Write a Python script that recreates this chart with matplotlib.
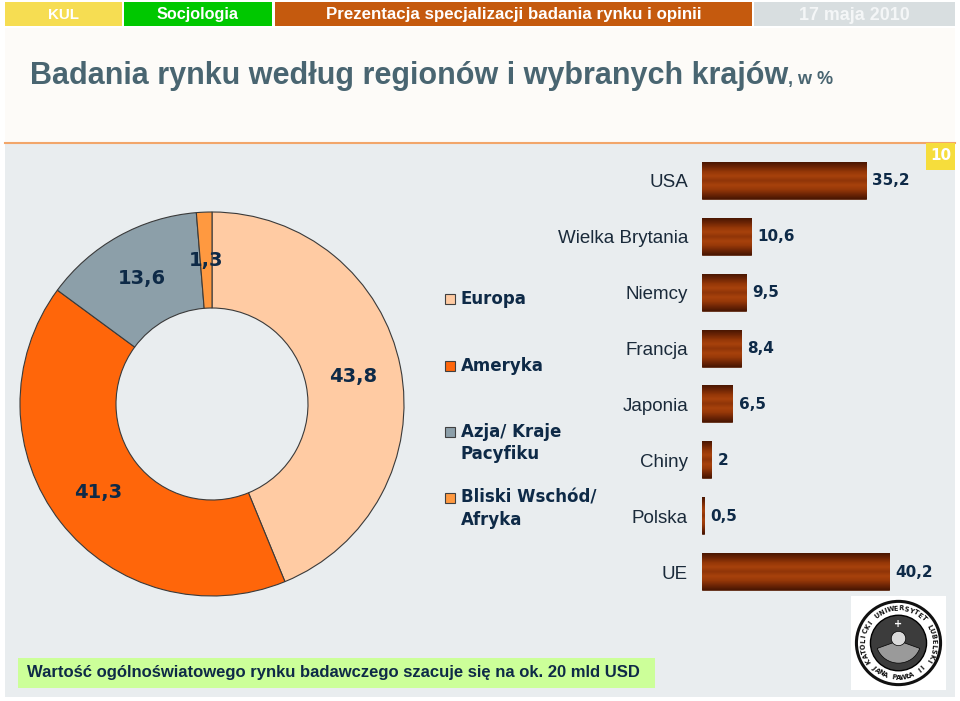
import matplotlib
matplotlib.use('Agg')
import matplotlib.pyplot as plt
import numpy as np
from matplotlib.patches import Rectangle, Circle, Wedge
from matplotlib import font_manager as fm
import matplotlib.colors as mcolors

# ---------------- data ----------------
regions = ['Europa', 'Ameryka', 'Azja/ Kraje\nPacyfiku', 'Bliski Wschód/\nAfryka']
region_shares = [43.8, 41.3, 13.6, 1.3]
region_colors = ['#FFCBA3', '#FF660A', '#8C9FA9', '#FF9940']

countries = ['USA', 'Wielka Brytania', 'Niemcy', 'Francja', 'Japonia', 'Chiny', 'Polska', 'UE']
country_shares = [35.2, 10.6, 9.5, 8.4, 6.5, 2, 0.5, 40.2]

header_labels = ['KUL', 'Socjologia', 'Prezentacja specjalizacji badania rynku i opinii', '17 maja 2010']
header_colors = ['#F6DD52', '#00C800', '#C55A0E', '#D8DEE0']
title = 'Badania rynku według regionów i wybranych krajów'
subtitle = ', w %'
note = 'Wartość ogólnoświatowego rynku badawczego szacuje się na ok. 20 mld USD'
page_number = '10'
seal_top = 'KATOLICKI UNIWERSYTET LUBELSKI'
seal_bottom = 'JANA PAWŁA II'

W, H = 960, 701
names = {f.name for f in fm.fontManager.ttflist}
if 'Liberation Sans Narrow' in names:
    NARROW = 'Liberation Sans Narrow'
elif 'Liberation Sans' in names:
    NARROW = 'Liberation Sans'
else:
    NARROW = 'DejaVu Sans'
NAVY = '#0E2A47'

def fmt(v):
    return f"{v:g}".replace('.', ',')

fig = plt.figure(figsize=(W / 100, H / 100), dpi=100)
fig.patch.set_facecolor('white')

def fx(x):
    return x / W

def fy(y):
    return 1 - y / H

def prect(x0, y0, x1, y1, **kw):
    r = Rectangle((fx(x0), fy(y1)), (x1 - x0) / W, (y1 - y0) / H,
                  transform=fig.transFigure, **kw)
    fig.add_artist(r)
    return r

def fit(t, target_px):
    fig.canvas.draw()
    r = fig.canvas.get_renderer()
    w = t.get_window_extent(r).width
    t.set_fontsize(t.get_fontsize() * target_px / w)

# ---------------- background ----------------
prect(5, 28, 955, 143, facecolor='#FDFBF8', edgecolor='none', zorder=0)
prect(5, 143, 955, 697, facecolor='#E9EDEF', edgecolor='none', zorder=0)
fig.add_artist(plt.Line2D([fx(5), fx(955)], [fy(143), fy(143)], transform=fig.transFigure,
                          color='#F2A66A', lw=1.5, zorder=1))

# header
hx = [(5, 122), (124, 272), (275, 752), (754, 955)]
hwidths = [31, 82, 372, 110]
for (x0, x1), lab, col, tw in zip(hx, header_labels, header_colors, hwidths):
    prect(x0, 2, x1, 26, facecolor=col, edgecolor='none', zorder=1)
    tcol = 'white' if lab != header_labels[3] else '#F4F6F7'
    t = fig.text(fx((x0 + x1) / 2), fy(15), lab, ha='center', va='center', color=tcol,
                 fontsize=12, fontweight='bold', family=NARROW, zorder=2)
    fit(t, tw)

# title
tt = fig.text(fx(30), fy(84), title, ha='left', va='baseline', color='#496571',
              fontsize=22, fontweight='bold', family=NARROW)
fit(tt, 758)
fig.canvas.draw()
bb = tt.get_window_extent(fig.canvas.get_renderer())
fig.text(bb.x1 / W, fy(84), subtitle, ha='left', va='baseline', color='#496571',
         fontsize=13, fontweight='bold', family=NARROW)

# page number
prect(926, 143, 955, 170, facecolor='#F6DD3C', edgecolor='none', zorder=2)
fig.text(fx(940.5), fy(156), page_number, ha='center', va='center', color='white',
         fontsize=11, fontweight='bold', zorder=3)

# ---------------- donut ----------------
ax_p = fig.add_axes([fx(20), fy(596), 384 / W, 384 / H])
wedges, _ = ax_p.pie(region_shares, colors=region_colors, startangle=90, counterclock=False,
                     radius=1, wedgeprops=dict(width=0.5, edgecolor='#3A3A3A', linewidth=0.8))
for w in wedges:
    w.set_clip_on(False)
ax_p.set_xlim(-1, 1)
ax_p.set_ylim(-1, 1)
ax_p.axis('off')
for w, v in zip(wedges, region_shares):
    ang = np.deg2rad((w.theta1 + w.theta2) / 2)
    ax_p.text(0.75 * np.cos(ang), 0.75 * np.sin(ang), fmt(v), ha='center', va='center',
              fontsize=14, fontweight='bold', color=NAVY)

# legend
leg_y = [(299, 299), (366, 366), (432, 443), (498, 509)]
for (sy, ty), lab, col in zip(leg_y, regions, region_colors):
    prect(445, sy - 5, 455, sy + 5, facecolor=col, edgecolor='#404040', lw=0.8, zorder=3)
    fig.text(fx(461), fy(ty), lab, ha='left', va='center', fontsize=12, fontweight='bold',
             color=NAVY, linespacing=1.3)

# ---------------- bars ----------------
ax_b = fig.add_axes([fx(702), fy(600), (955 - 702) / W, 447 / H])
ax_b.set_facecolor('none')
y = np.arange(len(countries))
bars = ax_b.barh(y, country_shares, height=0.645, color='#8B3208', edgecolor='#4A1702', lw=0.5)
grad_cols = ['#4A1702', '#6E2505', '#933607', '#A8420C', '#8F3408', '#A8420C',
             '#963808', '#702606', '#4A1702']
cmap = mcolors.LinearSegmentedColormap.from_list('bar', grad_cols)
grad = np.linspace(0, 1, 64).reshape(-1, 1)
for b in bars:
    x0, y0, bw, bh = b.get_x(), b.get_y(), b.get_width(), b.get_height()
    ax_b.imshow(grad, extent=[x0, x0 + bw, y0 + bh, y0], aspect='auto', cmap=cmap,
                origin='upper', zorder=3, interpolation='bilinear')
ax_b.set_xlim(0, 253 / 4.66)
ax_b.set_ylim(len(countries) - 0.5, -0.5)
ax_b.set_yticks(y, countries)
ax_b.tick_params(axis='y', length=0, pad=10, labelsize=13.5, labelcolor='#1A2A3A')
for lbl in ax_b.get_yticklabels():
    lbl.set_family(NARROW)
ax_b.set_xticks([])
for s in ax_b.spines.values():
    s.set_visible(False)
for b, v in zip(bars, country_shares):
    ax_b.annotate(fmt(v), (b.get_width(), b.get_y() + b.get_height() / 2),
                  xytext=(4.5, 0), textcoords='offset points', ha='left', va='center',
                  fontsize=11, fontweight='bold', color=NAVY, zorder=5)

# ---------------- note ----------------
prect(18, 658, 655, 688, facecolor='#CCFF99', edgecolor='none', zorder=1)
nt = fig.text(fx(27), fy(673), note, ha='left', va='center', color=NAVY,
              fontsize=13, fontweight='bold', family=NARROW, zorder=2)
fit(nt, 614)

# ---------------- seal ----------------
ax_l = fig.add_axes([fx(851), fy(690), 95 / W, 94 / H])
ax_l.set_xlim(-1.05, 1.05)
ax_l.set_ylim(-1.05, 1.05)
ax_l.set_facecolor('white')
ax_l.set_xticks([]); ax_l.set_yticks([])
for s in ax_l.spines.values():
    s.set_visible(False)
ax_l.add_patch(Circle((0, 0), 0.93, facecolor='white', edgecolor='#111111', lw=2.2))
ax_l.add_patch(Circle((0, 0), 0.62, facecolor='#3C3C3C', edgecolor='black', lw=1.0))
# eagle-like center shape
ax_l.add_patch(Wedge((0, 0.05), 0.5, 200, 340, facecolor='#9A9A9A', edgecolor='black', lw=0.5))
ax_l.add_patch(Circle((0, 0.1), 0.16, facecolor='#DADADA', edgecolor='black', lw=0.5))
ax_l.text(0, 0.42, '+', ha='center', va='center', fontsize=7, fontweight='bold', color='white')
n = len(seal_top)
for i, ch in enumerate(seal_top):
    a = np.deg2rad(210 - i * 240 / (n - 1))
    ax_l.text(0.775 * np.cos(a), 0.775 * np.sin(a), ch, ha='center', va='center', color='#111111',
              fontsize=4.8, fontweight='bold', rotation=np.rad2deg(a) - 90)
m = len(seal_bottom)
for i, ch in enumerate(seal_bottom):
    a = np.deg2rad(-135 + i * 90 / (m - 1))
    ax_l.text(0.775 * np.cos(a), 0.775 * np.sin(a), ch, ha='center', va='center', color='#111111',
              fontsize=4.8, fontweight='bold', rotation=np.rad2deg(a) + 90)

fig.savefig('out.png', dpi=100, facecolor=fig.get_facecolor())
